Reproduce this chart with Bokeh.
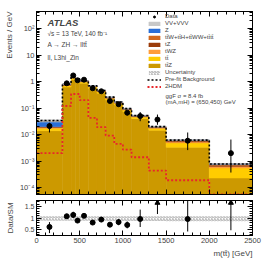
import numpy as np
from bokeh.plotting import figure
from bokeh.models import (FixedTicker, CustomJSTickFormatter, LinearAxis, LogAxis,
                          Range1d, Label, Legend, LegendItem, Title)
from bokeh.layouts import column
from bokeh.embed import file_html
from bokeh.resources import INLINE

FONT = "Liberation Sans"

# ---------------- data ----------------
edges = [0, 300, 400, 450, 500, 600, 700, 800, 900, 1000, 1100, 1300, 1500, 2000, 2500]

ttZ  = [0.014, 0.62, 1.20, 0.98, 0.86, 0.55, 0.36, 0.20, 0.13, 0.072, 0.040, 0.0145, 0.0033, 0.00023]
tt   = [0.0035, 0.08, 0.15, 0.14, 0.11, 0.07, 0.05, 0.03, 0.02, 0.012, 0.006, 0.0028, 0.0016, 0.00032]
tWZ  = [0.0008, 0.03, 0.05, 0.05, 0.04, 0.03, 0.02, 0.01, 0.007, 0.004, 0.002, 0.0009, 0.0004, 0.00008]
tZ   = [0.0007, 0.03, 0.05, 0.04, 0.03, 0.02, 0.015, 0.008, 0.006, 0.003, 0.002, 0.0008, 0.0004, 0.00007]
ttWH = [0.0007, 0.03, 0.04, 0.04, 0.03, 0.02, 0.012, 0.008, 0.005, 0.003, 0.0015, 0.0008, 0.0004, 0.00006]
Zjet = [0.010, 0.005, 0.005, 0.006, 0.005, 0.003, 0.002, 0.002, 0.001, 0.0008, 0.0004, 0.0001, 0.00002, 0.00001]
VV   = [0.0043, 0.005, 0.005, 0.004, 0.004, 0.003, 0.002, 0.001, 0.001, 0.0005, 0.0003, 0.0001, 0.00005, 0.00001]

unc_up = [0.08, 0.07, 0.07, 0.07, 0.07, 0.07, 0.08, 0.08, 0.08, 0.08, 0.08, 0.08, 0.08, 0.08]
unc_dn = [0.12, 0.12, 0.12, 0.12, 0.12, 0.12, 0.12, 0.13, 0.13, 0.13, 0.13, 0.13, 0.14, 0.14]

signal = [0.0020, 0.12, 0.34, 0.34, 0.20, 0.043, 0.019, 0.0092, 0.0045, 0.0027, 0.0014, 0.00044, 0.00019, 5.6e-5]

data    = [0.021, 0.86, 1.70, 1.12, 1.18, 0.56, 0.43, 0.185, 0.14, 0.067, 0.050, 0.037, 0.0059, 0.0020]
data_lo = [0.012, 0.78, 1.50, 0.99, 1.09, 0.50, 0.38, 0.158, 0.118, 0.053, 0.032, 0.0234, 0.0026, 0.00037]
data_hi = [0.028, 0.94, 1.90, 1.25, 1.27, 0.62, 0.48, 0.212, 0.162, 0.081, 0.071, 0.057, 0.012, 0.0065]

components = [
    ("tt\u0304Z", ttZ, "#cc9900"),
    ("tt\u0304", tt, "#ffcc00"),
    ("tWZ", tWZ, "#ff9d3a"),
    ("tZ", tZ, "#9c3c0a"),
    ("tt\u0304W+tt\u0304H+tt\u0304WW+tt\u0304tt\u0304", ttWH, "#d2691e"),
    ("Z", Zjet, "#2a6fd6"),
    ("VV+VVV", VV, "#c8c8c8"),
]

# ---------------- derived ----------------
left = np.array(edges[:-1], float)
right = np.array(edges[1:], float)
centers = (left + right) / 2
stack = np.vstack([np.array(c[1]) for c in components])
cum = np.cumsum(stack, axis=0)
total = cum[-1]
data_a = np.array(data)
lo_a = np.array(data_lo)
hi_a = np.array(data_hi)

YMIN, YMAX = 5.5e-5, 440
RMIN, RMAX = 0.25, 1.75

def style_axis(ax, labels=True, size="7.5px"):
    ax.major_tick_in = 5
    ax.major_tick_out = 0
    ax.minor_tick_in = 3
    ax.minor_tick_out = 0
    ax.axis_line_color = "black"
    ax.major_tick_line_color = "black"
    ax.minor_tick_line_color = "black"
    ax.major_label_text_font = FONT
    if labels:
        ax.major_label_text_font_size = size
        ax.major_label_standoff = 2
    else:
        ax.major_label_text_font_size = "1px"
        ax.major_label_text_alpha = 0
        ax.major_label_standoff = 0
    ax.axis_label_text_font = FONT
    ax.axis_label_text_font_style = "normal"

xticker = FixedTicker(ticks=[0, 500, 1000, 1500, 2000, 2500],
                      minor_ticks=list(range(0, 2501, 100)))
yticks = [1e-4, 1e-3, 1e-2, 1e-1, 1, 10, 100]
yminor = [k * 10.0 ** e for e in range(-5, 3) for k in range(2, 10)]
yticker = FixedTicker(ticks=yticks, minor_ticks=yminor)
yfmt = CustomJSTickFormatter(code="""
const e = Math.round(Math.log10(tick));
if (e == 0) return "1";
if (e == 1) return "10";
const sup = {"-":"\u207b","0":"\u2070","1":"\u00b9","2":"\u00b2","3":"\u00b3","4":"\u2074","5":"\u2075","6":"\u2076","7":"\u2077","8":"\u2078","9":"\u2079"};
return "10" + String(e).split("").map(c => sup[c]).join("");
""")

# ---------------- main panel ----------------
p = figure(width=273, height=197, x_range=Range1d(0, 2500), y_range=Range1d(YMIN, YMAX),
           y_axis_type="log", output_backend="svg", toolbar_location=None,
           min_border_left=36, min_border_right=21, min_border_top=11, min_border_bottom=3)
p.grid.visible = False
p.outline_line_color = "black"
p.background_fill_color = "white"
p.border_fill_color = "white"

renderers = {}
prev = np.full(len(left), 1e-7)
for (name, vals, col), top in zip(components, cum):
    q = p.quad(left=left, right=right, bottom=prev, top=top, fill_color=col,
               line_color=col, line_width=0.5)
    renderers[name] = q
    prev = top

unc = p.quad(left=left, right=right, bottom=total * (1 - np.array(unc_dn)), top=total * (1 + np.array(unc_up)),
             fill_alpha=0, line_color=None, hatch_pattern="/", hatch_color="#777777",
             hatch_scale=3, hatch_weight=0.6)

ex = list(edges)
prefit = p.step(x=ex, y=list(total) + [total[-1]], mode="after", line_color="black",
                line_width=1.6, line_dash="2 2")
sig = p.step(x=ex, y=list(signal) + [signal[-1]], mode="after", line_color="#e8262b",
             line_width=1.8, line_dash="2 2")

p.segment(x0=centers, y0=lo_a, x1=centers, y1=hi_a, line_color="black", line_width=1)
dat = p.scatter(x=centers, y=data_a, size=5, color="black")

legend_order = ["VV+VVV", "Z", "tt\u0304W+tt\u0304H+tt\u0304WW+tt\u0304tt\u0304", "tZ", "tWZ", "tt\u0304", "tt\u0304Z"]
items = [LegendItem(label="Data", renderers=[dat])]
for n in legend_order:
    items.append(LegendItem(label=n, renderers=[renderers[n]]))
items.append(LegendItem(label="Uncertainty", renderers=[unc]))
items.append(LegendItem(label="Pre-fit Background", renderers=[prefit]))
items.append(LegendItem(label="2HDM", renderers=[sig]))

leg = Legend(items=items, location=(111, 105), border_line_alpha=0, background_fill_alpha=0,
             label_text_font=FONT, label_text_font_size="6px", glyph_width=14, glyph_height=5,
             label_height=6, spacing=1, padding=0, margin=0, label_standoff=4)
p.add_layout(leg)

# axes
style_axis(p.xaxis[0], labels=False)
p.xaxis[0].ticker = xticker
style_axis(p.yaxis[0])
p.yaxis[0].ticker = yticker
p.yaxis[0].formatter = yfmt
top_ax = LinearAxis(ticker=xticker)
style_axis(top_ax, labels=False)
p.add_layout(top_ax, "above")
right_ax = LogAxis(ticker=yticker)
style_axis(right_ax, labels=False)
p.add_layout(right_ax, "right")
p.add_layout(Title(text="Events / GeV", align="right", text_font=FONT, text_font_size="8px",
                   text_font_style="normal", standoff=5), "left")

txt = [("ATLAS", 11, 172, "9.5px", "bold italic"),
       ("\u221as = 13 TeV, 140 fb\u207b\u00b9", 11, 161, "6.5px", "normal"),
       ("A \u2192 ZH \u2192 lltt\u0304", 11, 150.5, "6.5px", "normal"),
       ("ll, L3hi_Zin", 11, 137, "6.5px", "normal"),
       ("ggF \u03c3 = 8.4 fb", 129, 99, "6px", "normal"),
       ("(mA,mH) = (650,450) GeV", 129, 92.5, "6px", "normal")]
for t, xx, yy, fs, st in txt:
    p.add_layout(Label(x=xx, y=yy, x_units="screen", y_units="screen", text=t, text_font=FONT,
                       text_font_size=fs, text_font_style=st, text_baseline="middle"))

# ---------------- ratio panel ----------------
r = figure(width=273, height=65, x_range=p.x_range, y_range=Range1d(RMIN, RMAX),
           output_backend="svg", toolbar_location=None,
           min_border_left=36, min_border_right=21, min_border_top=3, min_border_bottom=27)
r.grid.visible = False
r.outline_line_color = "black"

r.quad(left=left, right=right, bottom=1 - np.array(unc_dn), top=1 + np.array(unc_up),
       fill_alpha=0, line_color=None, hatch_pattern="/", hatch_color="#777777",
       hatch_scale=3, hatch_weight=0.6)

ratio = data_a / total
rlo = lo_a / total
rhi = np.minimum(hi_a / total, RMAX)
inside = ratio <= RMAX
r.segment(x0=centers, y0=rlo, x1=centers, y1=rhi, line_color="black", line_width=1)
r.scatter(x=centers[inside], y=ratio[inside], size=5, color="black")
r.scatter(x=centers[~inside], y=np.full(int((~inside).sum()), RMAX - 0.1), marker="triangle",
          size=5, color="black")

style_axis(r.xaxis[0])
r.xaxis[0].ticker = xticker
style_axis(r.yaxis[0], size="7px")
r.yaxis[0].ticker = FixedTicker(ticks=[0.5, 1, 1.5], minor_ticks=[round(0.1 * i, 1) for i in range(2, 19)])
r.yaxis[0].axis_label = "Data/SM"
r.yaxis[0].axis_label_text_font_size = "8px"
r.yaxis[0].axis_label_standoff = 7
rt = LinearAxis(ticker=xticker)
style_axis(rt, labels=False)
r.add_layout(rt, "above")
rr = LinearAxis(ticker=r.yaxis[0].ticker)
style_axis(rr, labels=False)
r.add_layout(rr, "right")
r.add_layout(Title(text="m(tt\u0304) [GeV]", align="right", text_font=FONT, text_font_size="8px",
                   text_font_style="normal", standoff=2), "below")

layout = column(p, r, spacing=0)
open("out.html", "w").write(file_html(layout, INLINE))
